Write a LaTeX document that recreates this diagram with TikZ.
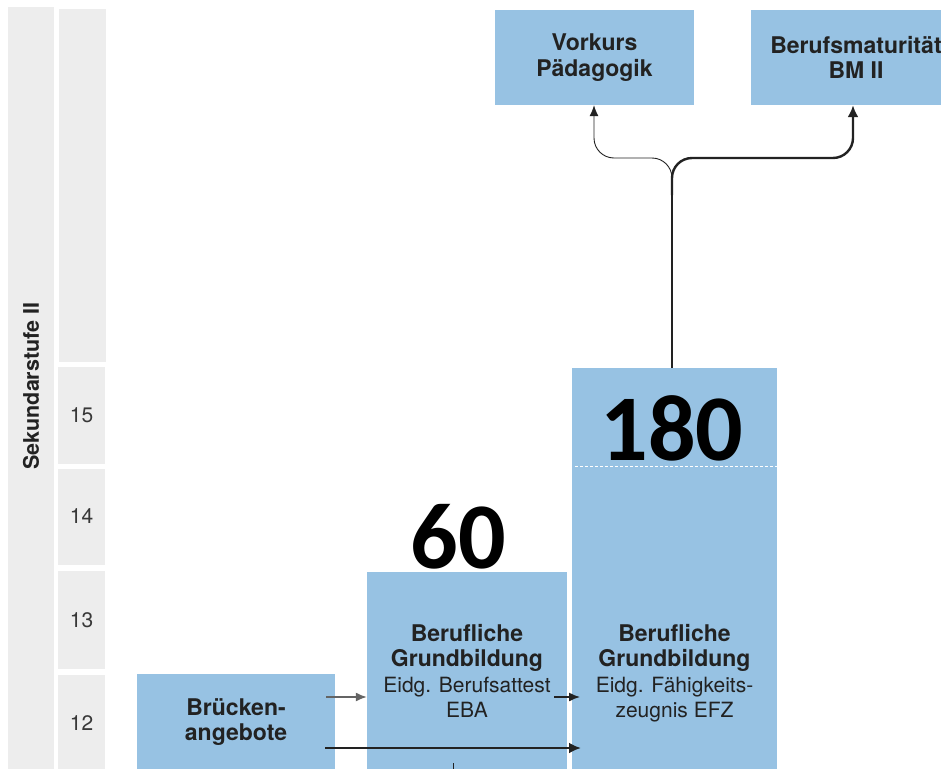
\documentclass[tikz,border=0pt]{standalone}
\usepackage{fontspec}
\setmainfont{TeX Gyre Heros}
\newfontfamily\bigfont{Carlito}
\usetikzlibrary{arrows.meta}
\definecolor{boxblue}{HTML}{97C2E3}
\definecolor{colgray}{HTML}{EDEDED}
\definecolor{txt}{HTML}{222222}
\newcommand\regtxt{\fontsize{21}{25}\selectfont\mdseries}
\begin{document}
\begin{tikzpicture}[x=1pt,y=-1pt,
  box/.style={fill=boxblue, draw=none, inner sep=0pt, align=center, text=txt, font=\fontsize{23}{25.5}\selectfont\bfseries},
  cell/.style={fill=colgray, draw=none, inner sep=0pt, text=txt!90, font=\fontsize{21}{21}\selectfont},
  bignum/.style={font=\bigfont\bfseries\fontsize{94}{94}\selectfont, text=black, inner sep=0pt},
  thinarrow/.style={draw=txt, line width=0.9pt, -{Latex[length=11pt,width=9pt]}},
  thickarrow/.style={draw=txt, line width=2.4pt, -{Latex[length=12pt,width=11pt]}}
]
\useasboundingbox (0,0) rectangle (946,769);
\clip (0,0) rectangle (946,769);
\fill[white] (0,0) rectangle (946,769);
% left columns
\node[cell, minimum width=46pt, minimum height=762pt] (stufe) at (30.5,388) {};
\node[rotate=90, font=\fontsize{21.5}{21.5}\selectfont\bfseries, text=txt] (stufelbl) at (31,386) {Sekundarstufe II};
\node[cell, minimum width=47pt, minimum height=353pt] (ctop) at (82.5,185.5) {};
\node[cell, minimum width=47pt, minimum height=97pt] (c15) at (81.5,415.5) {15};
\node[cell, minimum width=47pt, minimum height=96pt] (c14) at (81.5,516.5) {14};
\node[cell, minimum width=47pt, minimum height=98pt] (c13) at (81.5,620) {13};
\node[cell, minimum width=47pt, minimum height=96pt] (c12) at (81.5,723) {12};
% boxes
\node[box, minimum width=199pt, minimum height=95pt] (vorkurs) at (594.5,57.5) {Vorkurs\\Pädagogik};
\node[box, minimum width=210pt, minimum height=95pt] (bm) at (856,57.5) {Berufsmaturität\\BM II};
\node[box, minimum width=198pt, minimum height=96pt] (bruecken) at (236,722) {Brücken-\\angebote};
\node[box, minimum width=200pt, minimum height=198pt] (eba) at (467,671) {Berufliche\\Grundbildung\\{\regtxt Eidg. Berufsattest}\\{\regtxt EBA}};
\node[box, minimum width=205pt, minimum height=402pt] (efz) at (674.5,569) {};
\node[box, fill=none] (efztext) at (674.5,673) {Berufliche\\Grundbildung\\{\regtxt Eidg. Fähigkeits-}\\{\regtxt zeugnis EFZ}};
\draw[white, line width=1pt, dash pattern=on 3pt off 2pt] (efz.west |- 0,466) ++(3,0) coordinate (dl) -- (efz.east |- dl) ;
% right white margin strip
\fill[white] (941,0) rectangle (946,769);
% big numbers
\node[bignum] (n180) at (672,428) {180};
\node[bignum] (n60) at (458,537) {60};
% top connectors
\coordinate (split) at (672,195);
\coordinate (lj) at (594,158);
\coordinate (rj) at (853,158);
\draw[draw=txt, line width=2.4pt] (efz.north -| split) -- (split);
\draw[thinarrow, rounded corners=20pt] (split) -- (split |- lj) -- (lj) -- (vorkurs.south -| lj);
\draw[thickarrow, rounded corners=20pt] (split) -- (split |- rj) -- (rj) -- (bm.south -| rj);
% bottom connectors
\coordinate (a1) at (326,697);
\draw[thinarrow, draw=txt!70, line width=1.4pt] (a1) -- (eba.west |- a1);
\coordinate (a2) at (554,697);
\coordinate (a2e) at (580,697);
\draw[thinarrow, line width=1.4pt] (a2) -- (a2e);
\coordinate (a3) at (325,748);
\coordinate (a3e) at (581,748);
\draw[thickarrow, line width=2.4pt] (a3) -- (a3e);
\coordinate (t1) at (453,763);
\coordinate (t2) at (453,769);
\draw[draw=txt, line width=1pt] (t1) -- (t2);
\end{tikzpicture}
\end{document}
